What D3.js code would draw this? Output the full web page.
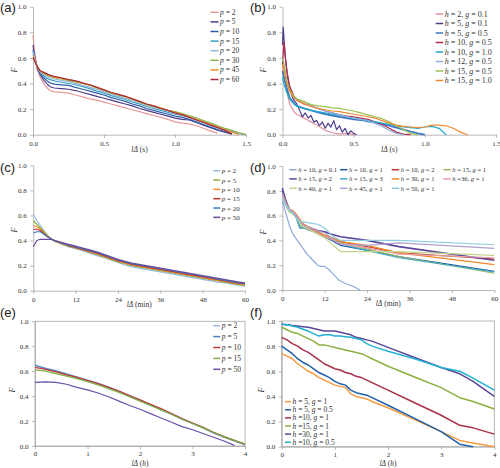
<!DOCTYPE html>
<html><head><meta charset="utf-8">
<script src="https://cdn.jsdelivr.net/npm/d3@7"></script>
<style>body{margin:0;background:#fff}svg{display:block}</style>
</head><body><svg id="c" width="500" height="468"></svg>
<script>
// ---------- tick values / labels ----------
const yTickVals = [0, 0.2, 0.4, 0.6, 0.8, 1.0];
const yTickLabels = ["0.0", "0.2", "0.4", "0.6", "0.8", "1.0"];
const xTicksAB = [0, 0.5, 1.0, 1.5];
const xLabelsAB = ["0.0", "0.5", "1.0", "1.5"];
const xTicksCD = [0, 12, 24, 36, 48, 60];
const xLabelsCD = ["0", "12", "24", "36", "48", "60"];
const xTicksEF = [0, 1, 2, 3, 4];
const xLabelsEF = ["0", "1", "2", "3", "4"];

// ---------- panel (a) ----------
const aX = [0,0.01,0.03,0.05,0.08,0.1,0.12,0.15,0.2,0.25,0.3,0.35,0.4,0.45,0.5,0.55,0.6,0.65,0.7,0.75,0.8,0.85,0.9,0.95,1.0,1.05,1.1,1.15,1.2,1.25,1.3,1.35,1.4,1.45,1.5];
const aNames = ["p = 2","p = 5","p = 10","p = 15","p = 20","p = 30","p = 45","p = 60"];
const aP2  = [0.78,0.66,0.51,0.45,0.39,0.365,0.345,0.335,0.33,0.325,0.31,0.295,0.28,0.27,0.255,0.24,0.225,0.21,0.195,0.18,0.165,0.15,0.135,0.12,0.10,0.09,0.085,0.07,0.05,0.03,0.01];
const aP5  = [0.70,0.62,0.52,0.47,0.42,0.395,0.375,0.365,0.36,0.355,0.345,0.33,0.315,0.30,0.285,0.27,0.255,0.24,0.225,0.205,0.19,0.175,0.16,0.145,0.13,0.12,0.115,0.095,0.075,0.055,0.035,0.02,0.005];
const aP10 = [0.66,0.60,0.53,0.48,0.44,0.42,0.405,0.395,0.39,0.385,0.37,0.355,0.34,0.325,0.31,0.29,0.275,0.26,0.24,0.225,0.205,0.19,0.175,0.16,0.145,0.135,0.12,0.10,0.08,0.06,0.04,0.025,0.01];
const aP15 = [0.63,0.60,0.53,0.49,0.455,0.44,0.43,0.42,0.41,0.40,0.39,0.375,0.36,0.34,0.325,0.305,0.29,0.275,0.255,0.24,0.22,0.205,0.19,0.175,0.16,0.15,0.135,0.115,0.095,0.075,0.055,0.04,0.025,0.01,0.0];
const aP20 = [0.65,0.60,0.53,0.49,0.465,0.455,0.445,0.435,0.425,0.415,0.40,0.385,0.37,0.355,0.335,0.315,0.30,0.285,0.265,0.25,0.23,0.215,0.20,0.185,0.17,0.155,0.14,0.12,0.10,0.08,0.06,0.045,0.03,0.01,0.0];
const aP30 = [0.60,0.58,0.53,0.50,0.475,0.465,0.455,0.445,0.435,0.425,0.41,0.40,0.385,0.365,0.345,0.325,0.31,0.295,0.275,0.255,0.235,0.22,0.205,0.19,0.18,0.165,0.15,0.13,0.11,0.09,0.07,0.05,0.035,0.015,0.0];
const aP45 = [0.62,0.59,0.53,0.50,0.48,0.47,0.46,0.45,0.44,0.43,0.42,0.40,0.39,0.37,0.35,0.33,0.315,0.30,0.28,0.26,0.24,0.225,0.21,0.19,0.175,0.16,0.14,0.12,0.10,0.08,0.06,0.04,0.02,0.0];
const aP60 = [0.60,0.58,0.53,0.50,0.485,0.475,0.465,0.455,0.445,0.43,0.42,0.405,0.39,0.37,0.35,0.33,0.315,0.30,0.28,0.26,0.24,0.225,0.205,0.19,0.17,0.155,0.135,0.115,0.095,0.075,0.055,0.035,0.005];
const aColors = ["#e8999b","#4f3b87","#2c5ea8","#3ba0c0","#94b8e0","#88b040","#ee8a2a","#a82a3c"];

// ---------- panel (b) ----------
const bX = [0,0.01,0.03,0.05,0.08,0.1,0.15,0.2,0.25,0.3,0.35,0.4,0.45,0.5,0.55,0.6,0.65,0.7,0.75,0.8,0.85,0.9,0.95,1.0,1.05,1.1,1.15,1.2,1.25,1.3];
const bXJag = [0,0.005,0.02,0.04,0.06,0.08,0.1,0.12,0.14,0.16,0.18,0.2,0.22,0.24,0.26,0.28,0.3,0.32,0.34,0.36,0.38,0.4,0.42,0.44,0.46,0.48,0.5,0.52];
const bNames = ["h = 2, g = 0.1","h = 5, g = 0.1","h = 5, g = 0.5","h = 10, g = 0.5","h = 10, g = 1.0","h = 12, g = 0.5","h = 15, g = 0.5","h = 15, g = 1.0"];
const bH2g01  = [0.55,0.46,0.34,0.24,0.18,0.16,0.13,0.10,0.07,0.035,0.015,0.005,0.01,0.0];
const bH5g01  = [0.70,0.84,0.60,0.42,0.32,0.27,0.24,0.19,0.14,0.17,0.13,0.15,0.10,0.11,0.07,0.10,0.05,0.09,0.06,0.11,0.04,0.07,0.02,0.05,0.0,0.03,0.01,0.0];
const bH5g05  = [0.50,0.45,0.36,0.29,0.245,0.225,0.205,0.19,0.175,0.16,0.15,0.14,0.13,0.12,0.115,0.105,0.095,0.085,0.07,0.055,0.04,0.025,0.01,0.0];
const bH10g05 = [0.55,0.72,0.50,0.38,0.30,0.27,0.24,0.225,0.205,0.185,0.17,0.155,0.145,0.14,0.13,0.12,0.10,0.08,0.05,0.02,0.005,0.0];
const bH10g1  = [0.45,0.40,0.33,0.28,0.24,0.225,0.205,0.19,0.18,0.17,0.16,0.15,0.14,0.13,0.12,0.11,0.10,0.09,0.08,0.07,0.06,0.055,0.05,0.06,0.065,0.05,0.0];
const bH12g05 = [0.60,0.55,0.42,0.34,0.29,0.27,0.245,0.225,0.205,0.185,0.17,0.155,0.14,0.13,0.12,0.11,0.09,0.065,0.035,0.01,0.0];
const bH15g05 = [0.60,0.55,0.42,0.35,0.30,0.28,0.26,0.235,0.225,0.22,0.21,0.205,0.195,0.185,0.17,0.155,0.14,0.125,0.10,0.07,0.04,0.01,0.0];
const bH15g1  = [0.55,0.50,0.40,0.34,0.29,0.27,0.245,0.22,0.205,0.195,0.185,0.18,0.17,0.16,0.15,0.14,0.13,0.11,0.09,0.075,0.065,0.06,0.055,0.06,0.075,0.075,0.07,0.05,0.02,0.0];
const bColors = ["#e0909c","#4b3b8a","#3a78c2","#b8284a","#22aacc","#8cb0e0","#98c050","#f28a30"];

// ---------- panel (c) ----------
const cX = [0,1,2,3,4,5,6,8,10,12,14,16,18,20,22,24,26,28,30,32,34,36,38,40,42,44,46,48,50,52,54,56,58,60];
const cNames = ["p = 2","p = 5","p = 10","p = 15","p = 20","p = 50"];
const cP2  = [0.61,0.56,0.52,0.48,0.44,0.415,0.395,0.37,0.35,0.335,0.32,0.30,0.28,0.265,0.245,0.225,0.205,0.19,0.18,0.17,0.16,0.15,0.14,0.13,0.12,0.11,0.10,0.09,0.08,0.07,0.065,0.055,0.045,0.035];
const cP5  = [0.56,0.53,0.50,0.47,0.44,0.415,0.395,0.375,0.355,0.34,0.325,0.305,0.29,0.27,0.25,0.23,0.215,0.20,0.19,0.18,0.17,0.16,0.15,0.14,0.13,0.12,0.11,0.10,0.09,0.08,0.07,0.06,0.05,0.045];
const cP10 = [0.52,0.51,0.49,0.46,0.435,0.415,0.40,0.375,0.36,0.345,0.33,0.31,0.295,0.275,0.255,0.235,0.22,0.205,0.195,0.185,0.175,0.165,0.155,0.145,0.135,0.125,0.115,0.105,0.095,0.085,0.075,0.065,0.055,0.05];
const cP15 = [0.49,0.49,0.48,0.455,0.43,0.415,0.40,0.38,0.36,0.345,0.33,0.315,0.30,0.28,0.26,0.24,0.225,0.21,0.20,0.19,0.18,0.17,0.16,0.15,0.14,0.13,0.12,0.11,0.10,0.09,0.08,0.07,0.06,0.055];
const cP20 = [0.46,0.47,0.47,0.45,0.43,0.415,0.40,0.38,0.365,0.35,0.335,0.32,0.305,0.285,0.265,0.245,0.23,0.215,0.205,0.195,0.185,0.175,0.165,0.155,0.145,0.135,0.125,0.115,0.105,0.095,0.085,0.075,0.065,0.058];
const cP50 = [0.35,0.40,0.41,0.41,0.41,0.41,0.40,0.385,0.37,0.355,0.34,0.325,0.31,0.29,0.27,0.25,0.235,0.22,0.21,0.20,0.19,0.18,0.17,0.16,0.15,0.14,0.13,0.12,0.11,0.10,0.09,0.08,0.07,0.062];
const cColors = ["#98b8e0","#8ab040","#f5902a","#c03030","#3a7ab8","#6a4c9c"];

// ---------- panel (d) ----------
const dX = [0,1,2,3,4,5,6,8,10,12,14,16.5,24,33,60];
const dXSteep = [0,1,2,3,4,5,6,7,8,9,10,11,12,13,14,15,16,17,18,20,22];
const dNames = ["h = 10, g = 0.1","h = 10, g = 1","h = 10, g = 2","h = 15, g = 1","h = 15, g = 2","h = 15, g = 3","h = 30, g = 1","h =36, g = 1","h = 40, g = 1","h = 45, g = 1","h = 50, g = 1"];
const dH10g01 = [0.72,0.62,0.52,0.45,0.41,0.37,0.33,0.29,0.26,0.23,0.20,0.19,0.19,0.17,0.14,0.11,0.08,0.065,0.05,0.03,0.0];
const dH10g1  = [0.80,0.72,0.64,0.62,0.58,0.50,0.50,0.48,0.46,0.43,0.40,0.36,0.32,0.27,0.15];
const dH10g2  = [0.77,0.70,0.65,0.63,0.60,0.56,0.53,0.49,0.47,0.44,0.42,0.39,0.35,0.30,0.25];
const dH15g1  = [0.75,0.68,0.63,0.62,0.58,0.52,0.50,0.48,0.46,0.43,0.41,0.38,0.33,0.27,0.135];
const dH15g2  = [0.82,0.72,0.65,0.63,0.60,0.55,0.52,0.50,0.48,0.47,0.45,0.43,0.40,0.35,0.24];
const dH15g3  = [0.78,0.70,0.64,0.62,0.58,0.50,0.50,0.48,0.46,0.43,0.41,0.37,0.32,0.26,0.145];
const dH30g1  = [0.78,0.71,0.65,0.64,0.61,0.57,0.53,0.50,0.47,0.44,0.42,0.39,0.36,0.30,0.205];
const dH36g1  = [0.76,0.70,0.65,0.63,0.60,0.56,0.52,0.49,0.46,0.43,0.41,0.37,0.34,0.29,0.26];
const dH40g1  = [0.74,0.68,0.63,0.61,0.58,0.54,0.51,0.48,0.45,0.42,0.37,0.31,0.31,0.31,0.28];
const dH45g1  = [0.78,0.70,0.65,0.63,0.60,0.55,0.52,0.50,0.48,0.46,0.42,0.37,0.36,0.38,0.335];
const dH50g1  = [0.74,0.68,0.64,0.62,0.58,0.55,0.55,0.54,0.53,0.50,0.44,0.40,0.40,0.40,0.365];
const dColors = ["#8ea8d8","#1e5aa8","#c0392b","#9bbb59","#5c449a","#40a8c4","#f0882a","#e6a0a8","#c4d48a","#b0a0cc","#8ccce0"];

// ---------- panel (e) ----------
const eX = [0,0.2,0.4,0.6,0.8,1.0,1.2,1.4,1.6,1.8,2.0,2.2,2.4,2.6,2.8,3.0,3.2,3.4,3.6,3.8,4.0];
const eNames = ["p = 2","p = 5","p = 10","p = 15","p = 50"];
const eP2  = [0.645,0.625,0.605,0.58,0.555,0.53,0.505,0.475,0.44,0.405,0.37,0.335,0.295,0.26,0.22,0.185,0.15,0.11,0.075,0.04,0.01];
const eP5  = [0.65,0.62,0.60,0.575,0.55,0.525,0.50,0.47,0.435,0.40,0.365,0.33,0.29,0.255,0.215,0.18,0.145,0.105,0.07,0.04,0.01];
const eP10 = [0.63,0.615,0.595,0.57,0.55,0.525,0.50,0.47,0.44,0.405,0.37,0.335,0.30,0.26,0.22,0.185,0.15,0.11,0.075,0.045,0.015];
const eP15 = [0.61,0.60,0.58,0.56,0.54,0.515,0.49,0.46,0.43,0.395,0.36,0.325,0.29,0.255,0.215,0.18,0.145,0.11,0.075,0.045,0.015];
const eP50 = [0.51,0.515,0.51,0.495,0.47,0.45,0.425,0.395,0.36,0.325,0.295,0.26,0.225,0.19,0.155,0.13,0.10,0.07,0.04,0.005];
const eColors = ["#9ab8e0","#4a80c0","#c03838","#80b040","#6a50a8"];

// ---------- panel (f) ----------
const fX = [0,0.1,0.2,0.3,0.4,0.5,0.6,0.7,0.8,0.9,1.0,1.1,1.2,1.3,1.4,1.5,1.6,1.7,2.0,2.5,3.0,3.35,3.6,4.0];
const fNames = ["h = 5, g = 1","h = 5, g = 0.5","h =10, g = 1","h =15, g = 1","h =30, g = 1","h =10, g = 0.5"];
const fH5g1   = [0.74,0.72,0.70,0.66,0.63,0.60,0.58,0.55,0.53,0.51,0.49,0.48,0.47,0.42,0.40,0.39,0.38,0.36,0.31,0.215,0.12,0.05,0.03,0.0];
const fH5g05  = [0.80,0.77,0.74,0.70,0.67,0.65,0.62,0.59,0.57,0.55,0.52,0.50,0.49,0.45,0.43,0.42,0.41,0.39,0.33,0.225,0.12,0.02,0.0];
const fH10g1  = [0.87,0.85,0.82,0.80,0.77,0.75,0.72,0.69,0.66,0.64,0.62,0.61,0.59,0.58,0.56,0.55,0.53,0.51,0.45,0.35,0.25,0.17,0.15,0.10];
const fH15g1  = [0.95,0.93,0.91,0.90,0.88,0.86,0.84,0.81,0.81,0.80,0.79,0.78,0.77,0.76,0.75,0.74,0.72,0.70,0.64,0.555,0.47,0.39,0.36,0.30];
const fH30g1  = [0.975,0.97,0.965,0.96,0.955,0.95,0.94,0.93,0.92,0.92,0.92,0.91,0.90,0.89,0.87,0.86,0.85,0.84,0.79,0.71,0.63,0.58,0.52,0.40];
const fH10g05 = [0.975,0.97,0.96,0.95,0.935,0.92,0.90,0.88,0.89,0.89,0.88,0.88,0.875,0.87,0.86,0.85,0.82,0.80,0.76,0.70,0.63,0.60,0.545,0.45];
const fColors = ["#f59a40","#1f5fa8","#a83048","#8cb040","#5c4498","#20b0d0"];

// ---------- drawing ----------
const svg = d3.select("#c");
const AX = "#a6a6a6";
const SERIF = "'Liberation Serif', 'Times New Roman', serif";

function richText(sel, str) {
  str.split(/([hgp])/).forEach(tok => {
    if (!tok) return;
    const t = sel.append("tspan").text(tok);
    if (/^[hgp]$/.test(tok)) t.attr("font-style", "italic");
  });
}

function panel(o) {
  const x = d3.scaleLinear().domain(o.xDomain).range([o.x0, o.x1]);
  const y = d3.scaleLinear().domain([0, 1]).range([o.yB, o.yT]);
  const g = svg.append("g");
  if (o.box) {
    g.append("rect").attr("x", o.x0).attr("y", o.yT)
      .attr("width", o.x1 - o.x0).attr("height", o.yB - o.yT)
      .attr("fill", "none").attr("stroke", AX).attr("stroke-width", 0.8);
  }
  const xa = g.append("g").attr("transform", `translate(0,${o.yB})`)
    .call(d3.axisBottom(x).tickValues(o.xt).tickFormat((d, i) => o.xl[i]).tickSize(3).tickSizeOuter(0).tickPadding(o.xPad || 3.5));
  const ya = g.append("g").attr("transform", `translate(${o.x0},0)`)
    .call(d3.axisLeft(y).tickValues(yTickVals).tickFormat((d, i) => yTickLabels[i]).tickSize(3).tickSizeOuter(0).tickPadding(3.5));
  [xa, ya].forEach(a => {
    a.select(".domain").attr("stroke", AX).attr("stroke-width", 0.8);
    a.selectAll(".tick line").attr("stroke", AX).attr("stroke-width", 0.8);
    a.selectAll(".tick text").attr("font-family", SERIF).attr("font-size", 7).attr("fill", "#333");
  });
  // series
  const line = d3.line().defined(d => d[1] != null).x(d => x(d[0])).y(d => y(d[1]));
  o.series.forEach((s, i) => {
    const pts = s.y.map((v, k) => [s.x[k], v]);
    g.append("path").datum(pts).attr("d", line).attr("fill", "none")
      .attr("stroke", o.colors[i]).attr("stroke-width", s.w || o.lw || 1.2)
      .attr("stroke-linejoin", "round");
  });
  // axis titles
  const xt = g.append("text").attr("x", (o.x0 + o.x1) / 2).attr("y", o.yB + o.xTitleDy)
    .attr("text-anchor", "middle").attr("font-family", SERIF).attr("font-size", 7.5).attr("fill", "#333");
  xt.append("tspan").attr("font-style", "italic").text("lΔ");
  xt.append("tspan").text(" (");
  xt.append("tspan").attr("font-style", o.unitItalic ? "italic" : "normal").text(o.unit);
  xt.append("tspan").text(")");
  g.append("text").attr("transform", `translate(${o.fx},${o.fy}) rotate(-90)`)
    .attr("text-anchor", "middle").attr("font-family", SERIF).attr("font-style", "italic")
    .attr("font-size", 8).attr("fill", "#333").text("F");
  // panel label
  g.append("text").attr("x", o.lx).attr("y", o.ly).attr("font-family", "'Liberation Sans', Arial, sans-serif")
    .attr("font-size", 13).attr("fill", "#222").text(o.label);
  // legend
  o.names.forEach((n, i) => {
    const pos = o.legPos(i);
    g.append("line").attr("x1", pos[0]).attr("x2", pos[0] + o.legLen)
      .attr("y1", pos[1]).attr("y2", pos[1]).attr("stroke", o.colors[i]).attr("stroke-width", o.legW || 1.5);
    const t = g.append("text").attr("x", pos[0] + o.legLen + 1.5).attr("y", pos[1] + 2.5)
      .attr("font-family", SERIF).attr("font-size", o.legFs).attr("fill", "#333");
    richText(t, n);
  });
}

panel({
  label: "(a)", lx: 0, ly: 12, x0: 33, x1: 246, yT: 6.7, yB: 134.7, xDomain: [0, 1.5],
  xt: xTicksAB, xl: xLabelsAB, unit: "s", xTitleDy: 17, fx: 17, fy: 70,
  names: aNames, colors: aColors, lw: 1.2,
  series: [aP2, aP5, aP10, aP15, aP20, aP30, aP45, aP60].map(v => ({x: aX, y: v})),
  legPos: i => [210.5, 12.3 + i * 9.6], legLen: 8, legFs: 7.5
});

panel({
  label: "(b)", lx: 250, ly: 12, x0: 282.5, x1: 496, yT: 6.7, yB: 134.7, xDomain: [0, 1.5],
  xt: xTicksAB, xl: xLabelsAB, unit: "s", xTitleDy: 17, fx: 266, fy: 70,
  names: bNames, colors: bColors, lw: 1.2,
  series: [
    {x: bX, y: bH2g01}, {x: bXJag, y: bH5g01}, {x: bX, y: bH5g05, w: 1.8}, {x: bX, y: bH10g05},
    {x: bX, y: bH10g1}, {x: bX, y: bH12g05}, {x: bX, y: bH15g05}, {x: bX, y: bH15g1}
  ],
  legPos: i => [435.7, 14 + i * 9.5], legLen: 7.5, legFs: 8
});

panel({
  label: "(c)", lx: 0, ly: 172, x0: 33.3, x1: 245, yT: 165.3, yB: 290.7, xDomain: [0, 60],
  xt: xTicksCD, xl: xLabelsCD, unit: "min", xTitleDy: 16, fx: 17, fy: 230,
  names: cNames, colors: cColors, lw: 1.2,
  series: [cP2, cP5, cP10, cP15, cP20, cP50].map(v => ({x: cX, y: v})),
  legPos: i => [213.3, 170.7 + i * 9.33], legLen: 7, legFs: 7
});

panel({
  label: "(d)", lx: 250, ly: 172, x0: 282.3, x1: 494.3, yT: 166, yB: 290, xDomain: [0, 60],
  xt: xTicksCD, xl: xLabelsCD, unit: "min", xTitleDy: 16, fx: 266, fy: 232,
  names: dNames, colors: dColors, lw: 1.2,
  series: [
    {x: dXSteep, y: dH10g01}, {x: dX, y: dH10g1}, {x: dX, y: dH10g2}, {x: dX, y: dH15g1},
    {x: dX, y: dH15g2, w: 1.6}, {x: dX, y: dH15g3}, {x: dX, y: dH30g1}, {x: dX, y: dH36g1},
    {x: dX, y: dH40g1}, {x: dX, y: dH45g1}, {x: dX, y: dH50g1}
  ],
  legPos: i => [[289.3, 340, 391.7, 443.3][i % 4], [169.7, 178.9, 188.3][Math.floor(i / 4)]],
  legLen: 7.5, legFs: 6.6
});

panel({
  label: "(e)", lx: 0, ly: 317, x0: 35, x1: 245, yT: 321.3, yB: 446, xDomain: [0, 4], box: true,
  xt: xTicksEF, xl: xLabelsEF, unit: "h", unitItalic: true, xTitleDy: 19.5, xPad: 2.5, fx: 15, fy: 390,
  names: eNames, colors: eColors, lw: 1.2,
  series: [eP2, eP5, eP10, eP15, eP50].map(v => ({x: eX, y: v})),
  legPos: i => [213.3, 325.7 + i * 10.9], legLen: 7, legFs: 7.5
});

panel({
  label: "(f)", lx: 250, ly: 317, x0: 281.7, x1: 494.3, yT: 321, yB: 446.7, xDomain: [0, 4], box: true,
  xt: xTicksEF, xl: xLabelsEF, unit: "h", unitItalic: true, xTitleDy: 19, xPad: 2.5, fx: 264, fy: 390,
  names: fNames, colors: fColors, lw: 1.5,
  series: [fH5g1, fH5g05, fH10g1, fH15g1, fH30g1, fH10g05].map(v => ({x: fX, y: v})),
  legPos: i => [285, 401.7 + i * 8.1], legLen: 6, legFs: 7.5
});
</script>
</body></html>
